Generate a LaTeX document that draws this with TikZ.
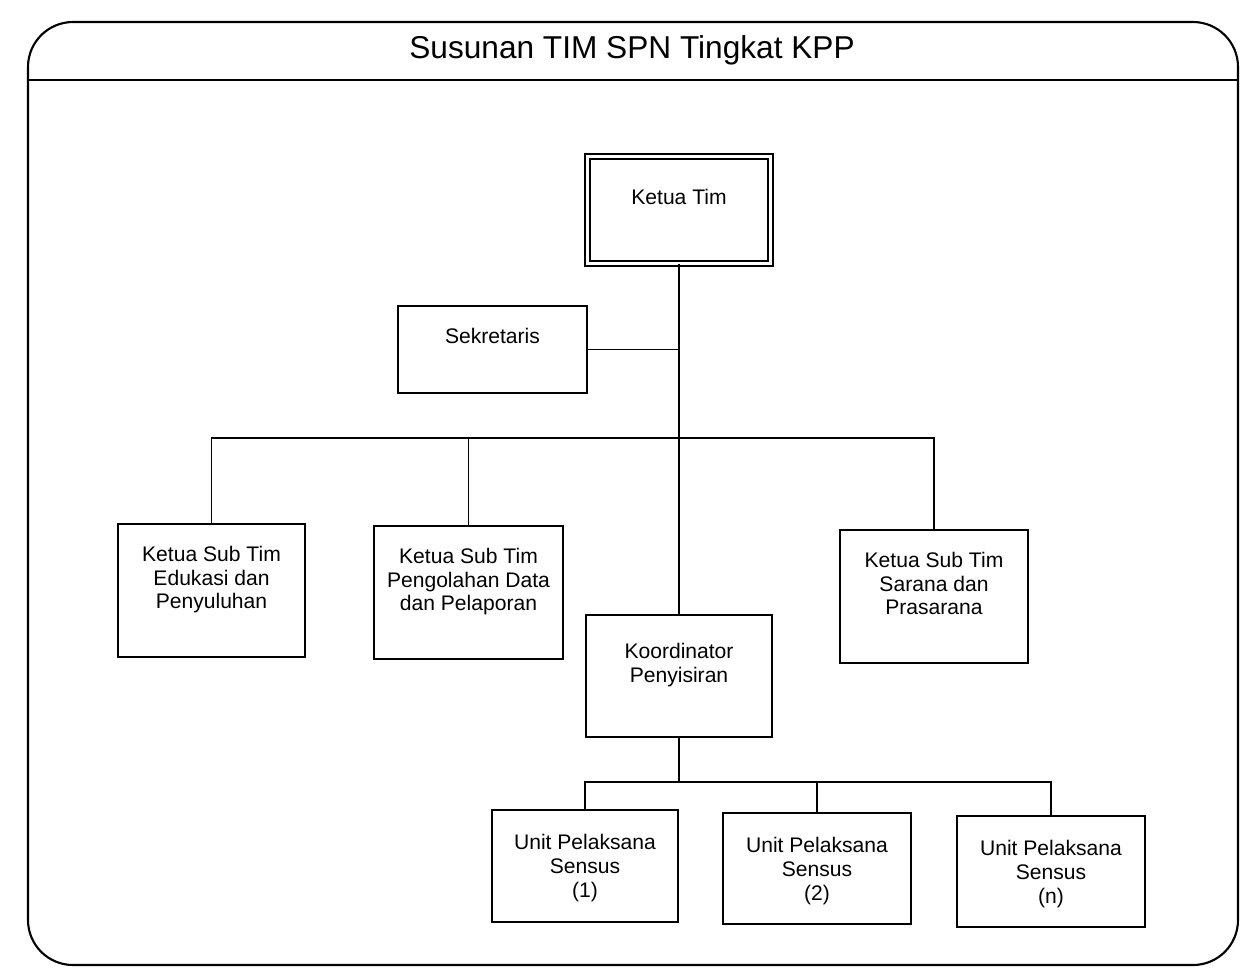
\documentclass[tikz,border=0pt]{standalone}
\usepackage{fontspec}
\setmainfont{Liberation Sans}
\usetikzlibrary{positioning}

\tikzset{
	unitbox/.style={draw, line width=1.1pt, rectangle, inner sep=0pt},
	boxtext/.style={anchor=north, inner sep=0pt, align=center, font=\fontsize{12}{13.6}\selectfont},
	conn/.style={line width=1.1pt}
}

\begin{document}
\begin{tikzpicture}[x=0.02cm, y=-0.02cm]
		\useasboundingbox (0,0) rectangle (1241,978);
		
		% Frame and title
		\draw[line width=1.2pt, rounded corners=0.9cm] (28,22) rectangle (1238,965);
		\draw[line width=1.2pt] (28,80) -- (1238,80);
		\node[font=\fontsize{18}{20}\selectfont] (title) at (632,50) {Susunan TIM SPN Tingkat KPP};
		
		% Boxes
		\node[unitbox, double, double distance=1.6pt, minimum width=3.66cm, minimum height=2.14cm,
			label={[boxtext, yshift=-0.66cm]north:Ketua Tim}] (ketua) at (679,210) {};
		\node[unitbox, minimum width=3.78cm, minimum height=1.74cm,
			label={[boxtext, yshift=-0.46cm]north:Sekretaris}] (sekretaris) at (492.5,349.5) {};
		\node[unitbox, minimum width=3.74cm, minimum height=2.66cm,
			label={[boxtext, yshift=-0.45cm]north:Ketua Sub Tim\\Edukasi dan\\Penyuluhan}] (edukasi) at (211.5,590.5) {};
		\node[unitbox, minimum width=3.78cm, minimum height=2.66cm,
			label={[boxtext, yshift=-0.45cm]north:Ketua Sub Tim\\Pengolahan Data\\dan Pelaporan}] (pengolahan) at (468.5,592.5) {};
		\node[unitbox, minimum width=3.76cm, minimum height=2.66cm,
			label={[boxtext, yshift=-0.45cm]north:Ketua Sub Tim\\Sarana dan\\Prasarana}] (sarana) at (934,596.5) {};
		\node[unitbox, minimum width=3.72cm, minimum height=2.44cm,
			label={[boxtext, yshift=-0.58cm]north:Koordinator\\Penyisiran}] (koordinator) at (679,676) {};
		\node[unitbox, minimum width=3.72cm, minimum height=2.24cm,
			label={[boxtext, yshift=-0.5cm]north:Unit Pelaksana\\Sensus\\(1)}] (unitA) at (585,866) {};
		\node[unitbox, minimum width=3.76cm, minimum height=2.22cm,
			label={[boxtext, yshift=-0.5cm]north:Unit Pelaksana\\Sensus\\(2)}] (unitB) at (817,868.5) {};
		\node[unitbox, minimum width=3.76cm, minimum height=2.22cm,
			label={[boxtext, yshift=-0.5cm]north:Unit Pelaksana\\Sensus\\(n)}] (unitN) at (1051,871.5) {};
		
		% Connectors
		\coordinate (busTop) at (679,438);
		\coordinate (busLow) at (679,782);
		\draw[conn] (ketua.south) -- (koordinator.north);
		\draw[conn] (sekretaris.east) -- (ketua.south |- sekretaris.east);
		\draw[conn] (edukasi.north) |- (busTop) -| (sarana.north);
		\draw[conn] (pengolahan.north) -- (pengolahan.north |- busTop);
		\draw[conn] (koordinator.south) -- (busLow);
		\draw[conn] (unitA.north) |- (busLow) -| (unitN.north);
		\draw[conn] (unitB.north) -- (unitB.north |- busLow);
	\end{tikzpicture}
\end{document}
